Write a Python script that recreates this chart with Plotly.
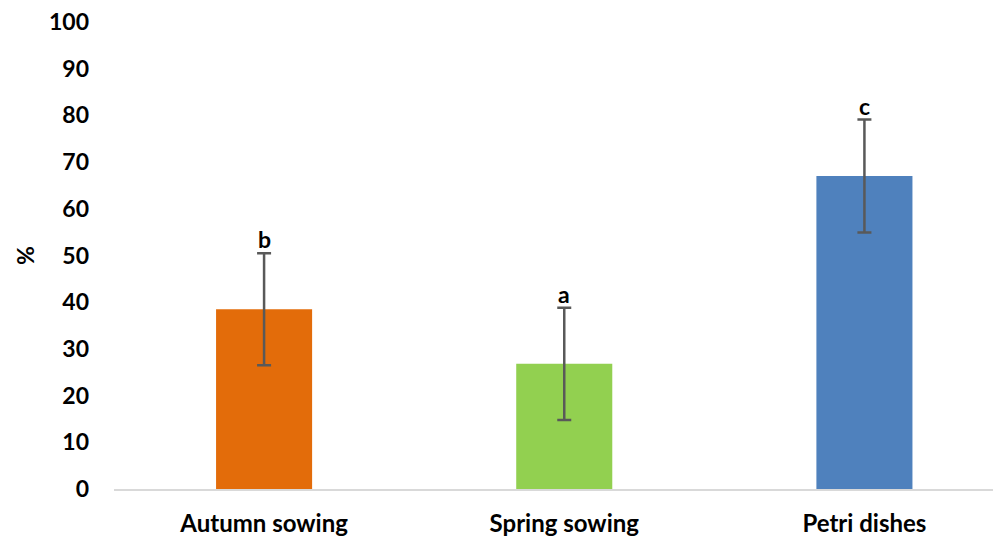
import plotly.graph_objects as go

categories = ["Autumn sowing", "Spring sowing", "Petri dishes"]
values = [38.5, 26.8, 67.0]
errors = [12.0, 12.0, 12.1]
letters = ["b", "a", "c"]
colors = ["#E36C0A", "#92D050", "#4F81BD"]
y_ticks = list(range(0, 101, 10))

FONT = "Lato"
FS = 23

fig = go.Figure()
fig.add_trace(go.Bar(
    x=categories, y=values, width=0.32,
    marker=dict(color=colors, line=dict(width=0)),
    error_y=dict(type="data", array=errors, visible=True,
                 color="#595959", thickness=2.5, width=7),
))
for c, v, e, l in zip(categories, values, errors, letters):
    fig.add_annotation(x=c, y=v + e, text=l, showarrow=False,
                       yanchor="bottom", yshift=-2,
                       font=dict(family=FONT, size=FS, color="#000000", weight="bold"))

# page body has an 8px default margin, so the figure is placed at (8, 8)
fig.update_layout(
    width=993, height=530,
    margin=dict(l=106, r=0, t=14, b=49),
    paper_bgcolor="white", plot_bgcolor="white",
    showlegend=False,
    font=dict(family=FONT, size=FS, color="#000000", weight="bold"),
)
fig.update_xaxes(
    range=[-0.5, 2.455], showline=True, linecolor="#D9D9D9", linewidth=2,
    showgrid=False, ticks="", ticklabelstandoff=12, automargin=False,
    ticklabeloverflow="allow",
    tickfont=dict(family=FONT, size=24, color="#000000", weight="bold"),
)
fig.update_yaxes(
    range=[0, 100], tickvals=y_ticks, showgrid=False, showline=False,
    zeroline=False, ticks="", ticklabelstandoff=24, automargin=False,
    ticklabeloverflow="allow",
    tickfont=dict(family=FONT, size=FS, color="#000000", weight="bold"),
    title=dict(text="%", standoff=7,
               font=dict(family=FONT, size=FS, color="#000000", weight="bold")),
)

fig.write_html("out.html")
